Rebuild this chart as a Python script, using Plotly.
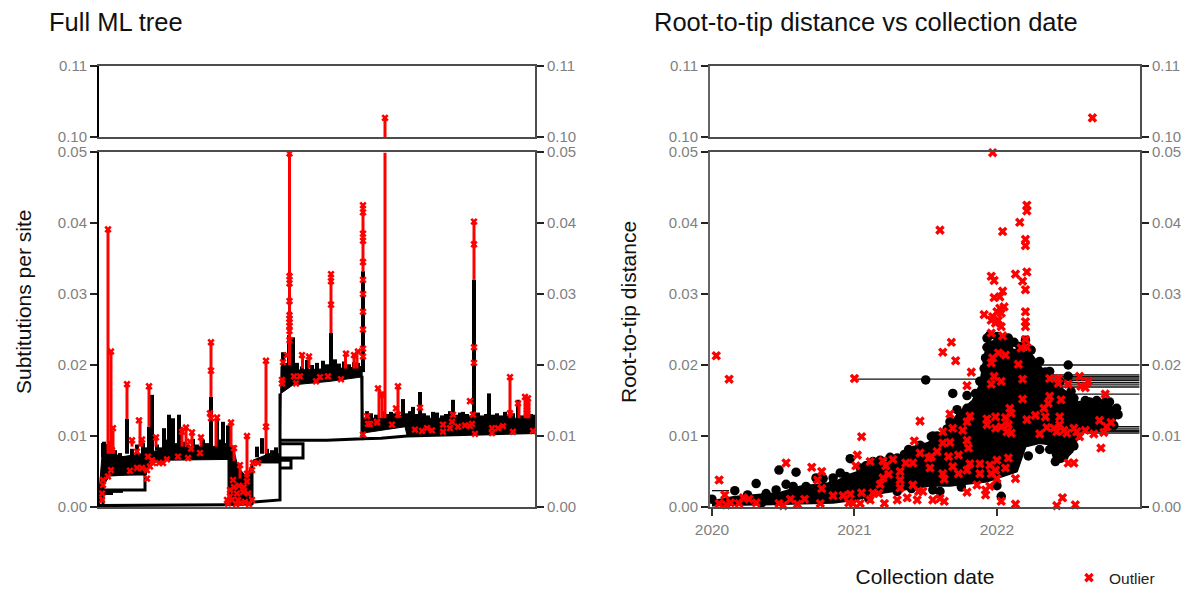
import plotly.graph_objects as go

W, H = 1192, 600   # canvas is 10 px taller than the 590 px window so the legend fits without pushing the margins
RED = "#ff0000"

# ---------- left panel: tree (x = tip rank, y = substitutions per site)
blob_upper_rank = [0, 2, 4, 8, 11, 24, 48, 65, 90, 110, 129, 131, 134, 139, 148, 154, 170, 181, 182, 194, 200, 231, 250, 263,
                   264, 280, 304, 330, 360, 400, 436]
blob_upper_val = [.0020, .0060, .0090, .0088, .0076, .0071, .0076, .0082, .0085, .0085, .0087, .0087, .0085, .0056, .0042, .0066, .0075, .0075, .0198, .0191, .0193, .0195, .0196, .0198,
                  .0125, .0125, .0125, .0125, .0125, .0125, .0125]
blob_lower_rank = [436, 400, 336, 308, 306, 271, 263, 262, 231, 194, 182, 181, 154, 154, 129, 129, 71, 51, 48, 47, 11, 4, 0]
blob_lower_val = [.0104, .0103, .0101, .0101, .0113, .0106, .0104, .0183, .0177, .0172, .0160, .0062, .0062, .0003, .0002, .0067, .0066, .0062, .0048, .0045, .0045, .0029, .0000]

black_rank = [4, 5, 28, 50, 53, 65, 70, 74, 80, 118, 124, 129, 163, 184, 190, 194, 232, 264, 304, 314, 321, 334, 343, 354, 364, 375, 390, 419, 429,
              # smaller teeth along the tops of the clades
              9, 16, 21, 33, 38, 44, 47, 58, 61, 68, 77, 84, 89, 94, 98, 104, 108, 112, 121, 127, 158, 168, 173, 177,
              186, 198, 203, 208, 213, 218, 224, 228, 236, 240, 245, 250, 255, 259,
              268, 272, 277, 284, 288, 292, 296, 300, 308, 311, 317, 325, 329, 338, 347, 351, 358, 361, 368, 372, 379, 383, 387, 394, 398, 402, 406, 410, 414, 423, 427, 432, 435]
black_top = [.0090, .0092, .0124, .0113, .0158, .0111, .0130, .0125, .0130, .0124, .0120, .0115, .0097, .0218, .0242, .0239, .0245, .0332, .0152, .0141, .0162, .0134, .0129, .0151, .0134, .0320, .0160, .0151, .0130,
             .0088, .0080, .0076, .0082, .0088, .0090, .0084, .0088, .0084, .0095, .0090, .0092, .0088, .0096, .0088, .0095, .0090, .0155, .0095, .0090, .0085, .0082, .0080, .0084,
             .0203, .0203, .0198, .0207, .0200, .0203, .0206, .0201, .0208, .0202, .0205, .0201, .0204, .0203,
             .0135, .0132, .0130, .0135, .0131, .0134, .0132, .0130, .0132, .0135, .0131, .0132, .0129, .0133, .0131, .0135, .0130, .0133, .0131, .0129, .0133, .0129, .0131, .0130, .0132, .0129, .0134, .0130, .0132, .0129, .0135, .0131, .0130]
black_base = [.0070, .0070, .0075, .0075, .0076, .0080, .0082, .0082, .0082, .0085, .0085, .0085, .0075, .0190, .0190, .0190, .0190, .0190, .0120, .0120, .0120, .0120, .0120, .0120, .0120, .0120, .0120, .0120, .0120,
              .0070, .0070, .0070, .0070, .0070, .0070, .0070, .0080, .0080, .0080, .0080, .0080, .0080, .0080, .0080, .0080, .0080, .0080, .0080, .0080, .0070, .0070, .0070, .0070,
              .0190, .0190, .0190, .0190, .0190, .0190, .0190, .0190, .0190, .0190, .0190, .0190, .0190, .0190,
              .0120, .0120, .0120, .0120, .0120, .0120, .0120, .0120, .0120, .0120, .0120, .0120, .0120, .0120, .0120, .0120, .0120, .0120, .0120, .0120, .0120, .0120, .0120, .0120, .0120, .0120, .0120, .0120, .0120, .0120, .0120, .0120, .0120]

red_rank = [9, 12, 14, 28, 33, 41, 43, 50, 57, 83, 87, 93, 102, 112, 117, 132, 135, 141, 148, 167, 190.5, 203.5, 210, 232, 246.5, 255, 258, 264, 280, 283, 286, 299, 375, 411, 420, 426, 428, 430]
red_top = [.0391, .0219, .0108, .0173, .0094, .0122, .0097, .0170, .0098, .0113, .0113, .0107, .0100, .0233, .0124, .0118, .0087, .0062, .0100, .0206, .0499, .0217, .0214, .0328, .0217, .0217, .0221, .0425, .0169, .0163, .0499, .0170, .0402, .0183, .0148, .0155, .0153, .0150]
red_base = [.0075, .0075, .0075, .0124, .0085, .0085, .0085, .0113, .0085, .0085, .0085, .0085, .0085, .0155, .0085, .0085, .0065, .0040, .0040, .0075, .0200, .0195, .0195, .0245, .0195, .0195, .0195, .0332, .0125, .0125, .0125, .0125, .0320, .0125, .0125, .0125, .0125, .0125]

# tree trunk branches, None splits the polylines
trunk_rank = [0, 129, None, 154, 181, 181, None, 181, 228, 263, 263, None, 263, 282, 308, 335, 436, None,
              181, 204, 204, 181, None, 181, 192, 192, 181, None, 4, 46, 46, 11, None, 4, 14, None, 4, 4, None, 4, 24]
trunk_val = [.0002, .0003, None, .0007, .0010, .0160, None, .0094, .0094, .0096, .0185, None, .0096, .0097, .0100, .0101, .0105, None,
             .0089, .0089, .0069, .0069, None, .0066, .0066, .0055, .0055, None, .0024, .0024, .0048, .0045, None, .0019, .0019, None, .0, .0045, None, .0022, .0022]

tree_out_rank = [3, 3, 4, 4, 12, 9, 9, 12, 14, 13, 11, 28, 33, 40, 43, 38, 50, 57, 31, 38, 43, 48, 48, 49, 53, 51, 54, 60, 64, 68, 79, 89, 101, 92, 91, 83, 87, 93, 102,
                 112, 112, 111, 112, 118, 132, 135, 148, 141, 134, 131, 138, 144, 149, 133, 139, 146, 153, 131, 148, 148, 153, 154, 159, 167, 167,
                 183, 183, 184, 188, 190.5, 190.5, 190.5, 190.5, 190.5, 190.5, 190.5, 190.5, 190.5, 190.5, 195, 201, 197, 217, 221, 229, 242, 203, 210, 247, 255, 259,
                 232, 232, 232, 264, 264, 264, 264, 264, 264, 264, 264, 264, 264, 264, 264, 268, 269, 278,
                 279, 283, 299, 271, 278, 293, 297, 299, 321, 316, 323, 328, 333, 344, 344, 351, 354, 353, 359, 366, 371, 371, 374, 373, 376, 375, 375, 375, 375,
                 393, 393, 399, 404, 414, 411, 411, 419, 426, 429, 428, 428, 434,
                 129, 135, 140, 145, 150, 128, 142, 137]
tree_out_val = [.0010, .0019, .0031, .0038, .0052, .0043, .0391, .0219, .0111, .0080, .0090, .0173, .0094, .0122, .0095, .0078, .0170, .0098, .0051, .0055, .0055, .0040, .0052, .0071, .0066, .0057, .0062, .0062, .0062, .0067, .0071, .0069, .0076, .0082, .0092, .0106, .0112, .0105, .0098,
                .0232, .0192, .0132, .0125, .0126, .0119, .0083, .0100, .0059, .0038, .0024, .0019, .0021, .0019, .0010, .0010, .0007, .0010, .0015, .0036, .0047, .0052, .0062, .0062, .0206, .0113,
                .0179, .0174, .0204, .0214, .0498, .0325, .0315, .0290, .0270, .0265, .0260, .0255, .0248, .0235, .0184, .0184, .0174, .0177, .0183, .0184, .0180, .0214, .0212, .0216, .0214, .0219,
                .0328, .0318, .0285, .0425, .0415, .0385, .0375, .0345, .0320, .0300, .0275, .0250, .0223, .0212, .0102, .0128, .0117, .0119,
                .0167, .0158, .0170, .0117, .0120, .0116, .0139, .0130, .0140, .0109, .0107, .0111, .0108, .0116, .0106, .0111, .0130, .0120, .0113, .0115, .0149, .0114, .0130, .0117, .0103, .0225, .0203, .0402, .0370,
                .0111, .0104, .0111, .0114, .0106, .0183, .0132, .0146, .0155, .0153, .0141, .0132, .0107,
                .0005, .0028, .0030, .0028, .0004, .0010, .0006, .0004]
top_spike_rank = [286, 286]
top_spike_val = [.1000, .1027]

# ---------- right panel: root-to-tip distance vs date (decimal year)
cloud_year = [2020.00, 2020.15, 2020.48, 2020.62, 2020.85, 2020.97, 2021.20, 2021.37, 2021.53, 2021.67, 2021.72, 2021.83, 2021.88, 2021.90, 2021.93, 2022.09, 2022.11, 2022.23, 2022.37, 2022.51, 2022.58, 2022.79, 2022.85, 2022.79, 2022.58, 2022.53, 2022.46, 2022.41, 2022.37, 2022.30, 2022.20, 2022.14, 2021.93, 2021.67, 2021.53, 2021.20, 2021.00, 2020.85, 2020.15, 2020.00]
cloud_val = [.0008, .0014, .0020, .0029, .0034, .0046, .0062, .0074, .0092, .0115, .0130, .0150, .0172, .0195, .0232, .0238, .0222, .0218, .0181, .0158, .0145, .0145, .0130, .0110, .0106, .0078, .0064, .0062, .0088, .0090, .0085, .0050, .0036, .0030, .0030, .0020, .0010, .0006, .0002, .0002]

tip_year = [2020.00, 2020.16, 2020.31, 2020.47, 2020.59, 2020.73, 2020.85, 2020.97, 2021.38, 2021.55, 2021.50, 2020.38, 2020.45, 2020.57, 2020.66, 2020.85, 2020.94, 2021.04, 2021.13, 2021.30, 2021.46, 2021.60,
            2021.69, 2022.50, 2022.50, 2022.37, 2021.79, 2021.85, 2021.88, 2022.22, 2022.30, 2022.37, 2022.41, 2022.03, 2021.55, 2022.79, 2022.85, 2022.84, 2022.76, 2022.65, 2022.58, 2022.82, 2022.70, 2022.56, 2022.54, 2022.47, 2021.72, 2021.79, 2021.67, 2021.54, 2022.54,
            2021.93, 2021.95, 2022.00, 2022.05, 2022.08, 2022.12, 2022.16, 2022.20, 2022.24, 2022.30, 2022.34, 2022.44, 2022.52, 2022.62, 2022.70, 2021.92, 2021.91, 2021.93,
            2020.25, 2020.52, 2020.78, 2020.90, 2021.08, 2021.18, 2021.25, 2021.35, 2021.42, 2021.50, 2021.65, 2021.75, 2021.58, 2020.35, 2021.10, 2021.30, 2021.40, 2021.60, 2021.75, 2022.00]
tip_val = [.0011, .0023, .0033, .0052, .0049, .0041, .0041, .0068, .0081, .0100, .0179, .0019, .0024, .0029, .0029, .0033, .0043, .0055, .0064, .0069, .0087, .0094,
           .0160, .0200, .0184, .0191, .0157, .0160, .0177, .0072, .0081, .0081, .0064, .0015, .0024, .0148, .0130, .0139, .0148, .0148, .0143, .0115, .0113, .0100, .0086, .0071, .0137, .0139, .0120, .0099, .0153,
           .0238, .0242, .0240, .0236, .0238, .0232, .0226, .0235, .0221, .0205, .0190, .0176, .0163, .0150, .0150, .0210, .0195, .0225,
           .0017, .0032, .0040, .0048, .0058, .0066, .0070, .0074, .0080, .0084, .0110, .0125, .0100, .0006, .0012, .0022, .0026, .0022, .0028, .0030]

branch_start = [2021.02, 2022.25, 2022.30, 2022.30, 2022.30, 2022.30, 2022.30, 2022.30, 2022.30, 2022.30, 2022.35, 2022.62, 2022.62, 2022.62, 2022.62, 2022.62, 2020.00]
branch_end = [2022.30, 2023.00, 2023.00, 2023.00, 2023.00, 2023.00, 2023.00, 2023.00, 2023.00, 2023.00, 2023.00, 2023.00, 2023.00, 2023.00, 2023.00, 2023.00, 2020.12]
branch_val = [.0180, .0200, .0186, .0184, .0182, .0180, .0178, .0175, .0172, .0169, .0159, .0113, .0110, .0108, .0106, .0104, .0023]

out_year = [2020.03, 2020.12, 2020.05, 2020.52, 2020.70, 2020.77, 2020.74, 2020.77, 2021.00, 2021.05, 2021.02, 2021.01, 2021.11, 2021.20, 2021.27, 2021.22, 2021.36, 2021.41, 2021.46, 2021.42, 2021.46, 2021.52, 2021.53, 2021.32, 2021.24, 2021.20, 2021.18, 2021.32, 2021.41, 2021.45, 2021.48, 2021.32,
            2020.97, 2021.05, 2021.13, 2021.17, 2021.04, 2020.99, 2021.11, 2021.21, 2021.30, 2021.37, 2021.44, 2021.55, 2020.85, 2020.92, 2020.96, 2020.76, 2020.47, 2020.55, 2020.60, 2020.65, 2020.50,
            2020.09, 2020.05, 2020.13, 2020.22, 2020.26, 2020.31, 2020.19, 2020.10,
            2022.21, 2022.21, 2022.16, 2021.60, 2022.04, 2022.20, 2022.20, 2022.21, 2022.13, 2021.96, 2021.98, 2022.18, 2022.20, 2022.04, 2021.98, 2022.02,
            2022.05, 2022.02, 2022.00, 2022.03, 2021.97, 2022.01, 2021.96, 2021.99, 2022.03, 2021.96, 2021.91, 2022.20, 2022.20, 2022.20, 2022.20, 2022.21, 2022.17, 2021.68, 2021.62, 2021.71, 2021.82, 2022.04,
            2022.01, 2022.06, 2021.97, 2021.96, 2022.15, 2021.98, 2022.03, 2021.96, 2022.18, 2021.79, 2022.37, 2022.43, 2022.43, 2022.50, 2022.58, 2022.64, 2022.59, 2022.62, 2022.76, 2022.37, 2022.36, 2022.45, 2022.18, 2022.33, 2022.09, 2022.34, 2022.44, 2022.27, 2022.21, 2022.10, 2022.06, 2021.99, 2021.93, 2021.67, 2021.81, 2021.79, 2021.69, 2021.62, 2021.76, 2021.79, 2021.67, 2021.80, 2021.62,
            2021.66, 2021.73, 2021.58, 2021.54, 2022.08, 2022.00, 2021.88, 2021.95, 2021.81, 2021.69, 2021.73, 2021.79, 2021.88, 2021.99, 2022.06, 2021.96, 2021.62, 2021.63, 2022.13, 2022.00, 2021.86, 2021.95, 2021.92, 2021.79, 2021.92, 2021.60, 2021.63, 2022.03, 2022.13, 2022.46, 2022.42, 2022.55,
            2021.93, 2021.99, 2022.03, 2022.08, 2022.07, 2022.10, 2022.35, 2022.40, 2022.44, 2022.42, 2022.47, 2022.49, 2022.54, 2022.56, 2022.62, 2022.58, 2022.68, 2022.72, 2022.80, 2022.77, 2022.75, 2022.73, 2022.30, 2022.50, 2022.54, 2021.97]
out_val = [.0213, .0180, .0038, .0062, .0056, .0050, .0038, .0026, .0181, .0099, .0073, .0058, .0064, .0065, .0067, .0058, .0062, .0062, .0121, .0093, .0076, .0069, .0055, .0050, .0046, .0041, .0032, .0038, .0031, .0022, .0022, .0027,
           .0018, .0020, .0020, .0019, .0005, .0005, .0010, .0005, .0010, .0013, .0010, .0010, .0016, .0016, .0006, .0005, .0005, .0011, .0004, .0011, .0002,
           .0017, .0005, .0006, .0013, .0011, .0006, .0005, .0003,
           .0425, .0417, .0401, .0390, .0388, .0377, .0368, .0331, .0328, .0325, .0319, .0318, .0306, .0304, .0295, .0296,
           .0282, .0280, .0275, .0273, .0268, .0263, .0263, .0259, .0254, .0245, .0271, .0275, .0261, .0254, .0236, .0225, .0224, .0232, .0218, .0206, .0190, .0241,
           .0217, .0214, .0210, .0203, .0201, .0184, .0177, .0173, .0180, .0171, .0181, .0181, .0174, .0173, .0184, .0177, .0170, .0168, .0159, .0156, .0146, .0151, .0152, .0139, .0139, .0127, .0127, .0129, .0123, .0132, .0126, .0127, .0124, .0131, .0128, .0120, .0111, .0106, .0108, .0094, .0091, .0083, .0090,
           .0071, .0073, .0078, .0071, .0069, .0066, .0061, .0059, .0061, .0057, .0047, .0052, .0047, .0052, .0055, .0047, .0047, .0039, .0040, .0040, .0031, .0029, .0024, .0021, .0017, .0012, .0008, .0008, .0004, .0013, .0002, .0003,
           .0116, .0111, .0113, .0116, .0106, .0104, .0112, .0111, .0116, .0106, .0108, .0104, .0111, .0106, .0108, .0099, .0103, .0122, .0119, .0113, .0105, .0083, .0103, .0062, .0062, .0499]
top_out_year = [2022.67]
top_out_val = [.1027]

y_ticks_low = [0, .01, .02, .03, .04, .05]
y_ticks_high = [.10, .11]
year_ticks = [2020, 2021, 2022]
tree_range = [0, 436]
year_range = [2019.986, 2023.004]
low_range = [0, .05]
high_range = [.10, .11]


def spikes(xs, bases, tops):
    ox, oy = [], []
    for x, b, t in zip(xs, bases, tops):
        ox += [x, x, None]
        oy += [b, t, None]
    return ox, oy


fig = go.Figure()

# left, lower
fig.add_trace(go.Scatter(x=blob_upper_rank + blob_lower_rank, y=blob_upper_val + blob_lower_val, fill="toself", fillcolor="black",
                         mode="lines", line=dict(color="black", width=1), xaxis="x", yaxis="y", showlegend=False, hoverinfo="skip"))
fig.add_trace(go.Scatter(x=trunk_rank, y=trunk_val, mode="lines", line=dict(color="black", width=3), xaxis="x", yaxis="y", showlegend=False, hoverinfo="skip"))
bx, by = spikes(black_rank, black_base, black_top)
fig.add_trace(go.Scatter(x=bx, y=by, mode="lines", line=dict(color="black", width=4), xaxis="x", yaxis="y", showlegend=False, hoverinfo="skip"))
rx, ry = spikes(red_rank, red_base, red_top)
fig.add_trace(go.Scatter(x=rx, y=ry, mode="lines", line=dict(color=RED, width=3), xaxis="x", yaxis="y", showlegend=False, hoverinfo="skip"))
fig.add_trace(go.Scatter(x=tree_out_rank, y=tree_out_val, mode="markers", marker=dict(symbol="x", size=6.5, color=RED), xaxis="x", yaxis="y", showlegend=False, cliponaxis=False))
# left, upper
fig.add_trace(go.Scatter(x=top_spike_rank, y=top_spike_val, mode="lines", line=dict(color=RED, width=3), xaxis="x2", yaxis="y2", showlegend=False, hoverinfo="skip"))
fig.add_trace(go.Scatter(x=top_spike_rank[1:], y=top_spike_val[1:], mode="markers", marker=dict(symbol="x", size=6.5, color=RED), xaxis="x2", yaxis="y2", showlegend=False))

# right, lower
lx, ly = [], []
for s, e, v in zip(branch_start, branch_end, branch_val):
    lx += [s, e, None]
    ly += [v, v, None]
fig.add_trace(go.Scatter(x=lx, y=ly, mode="lines", line=dict(color="#111111", width=1.3), xaxis="x3", yaxis="y3", showlegend=False, hoverinfo="skip"))
fig.add_trace(go.Scatter(x=cloud_year, y=cloud_val, fill="toself", fillcolor="black", mode="lines", line=dict(color="black", width=2),
                         xaxis="x3", yaxis="y3", showlegend=False, hoverinfo="skip"))
fig.add_trace(go.Scatter(x=tip_year, y=tip_val, mode="markers", marker=dict(symbol="circle", size=9.5, color="black"), xaxis="x3", yaxis="y3", showlegend=False))
fig.add_trace(go.Scatter(x=out_year, y=out_val, mode="markers", marker=dict(symbol="x", size=8.5, color=RED), xaxis="x3", yaxis="y3", name="Outlier", showlegend=True, cliponaxis=False))
# right, upper
fig.add_trace(go.Scatter(x=top_out_year, y=top_out_val, mode="markers", marker=dict(symbol="x", size=8.5, color=RED), xaxis="x4", yaxis="y4", showlegend=False))
# register the right-hand y axes
for ya in ["y5", "y6", "y7", "y8"]:
    base = {"y5": "x", "y6": "x2", "y7": "x3", "y8": "x4"}[ya]
    fig.add_trace(go.Scatter(x=[None], y=[None], xaxis=base, yaxis=ya, showlegend=False, hoverinfo="skip"))


def xd(a, b):
    return [a / W, b / W]


def yd(top, bottom):
    return [1 - bottom / H, 1 - top / H]


FONT = "Liberation Sans, Arial, sans-serif"
TICK = dict(color="#7f7f7f", size=15, family=FONT)
AX = "#4d4d4d"
LX, RX = xd(99, 535), xd(710, 1140)
LOW, HIGH = yd(152, 507), yd(66, 137)


def xaxis(domain, rng, yanchor, ticks=False):
    d = dict(domain=domain, range=rng, anchor=yanchor, showgrid=False, zeroline=False, showline=True, mirror=True,
             linecolor=AX, linewidth=2, showticklabels=False, ticks="", automargin=False)
    if ticks:
        d.update(tickmode="array", tickvals=year_ticks, ticktext=[str(v) for v in year_ticks], showticklabels=True,
                 ticks="outside", ticklen=7, tickwidth=2, tickcolor="#333333",
                 tickfont=dict(color="#7f7f7f", size=15.5, family=FONT))
    return d


def yaxis(domain, rng, vals, xanchor, side="left", overlay=None, color="black", fmt="%.2f"):
    d = dict(domain=domain, range=rng, anchor=xanchor, side=side, showgrid=False, zeroline=False, showline=True,
             linecolor=color, linewidth=2, tickmode="array", tickvals=vals, ticktext=[fmt % v for v in vals],
             ticks="outside", ticklen=7, tickwidth=2, tickcolor="#222222", tickfont=TICK, automargin=False)
    if overlay:
        d["overlaying"] = overlay
    return d


title_font = dict(color="#111111", size=21, family=FONT)
xa3 = xaxis(RX, year_range, "y3", ticks=True)
xa3["title"] = dict(text="Collection date", font=title_font, standoff=33)

fig.update_layout(
    width=W, height=H, margin=dict(l=0, r=0, t=0, b=0), autosize=False,
    paper_bgcolor="white", plot_bgcolor="rgba(0,0,0,0)",
    font=dict(family=FONT),
    xaxis=xaxis(LX, tree_range, "y"),
    xaxis2=xaxis(LX, tree_range, "y2"),
    xaxis3=xa3,
    xaxis4=xaxis(RX, year_range, "y4"),
    yaxis=yaxis(LOW, low_range, y_ticks_low, "x"),
    yaxis2=yaxis(HIGH, high_range, y_ticks_high, "x2"),
    yaxis3=yaxis(LOW, low_range, y_ticks_low, "x3", color="#666666"),
    yaxis4=yaxis(HIGH, high_range, y_ticks_high, "x4", color="#666666"),
    yaxis5=yaxis(LOW, low_range, y_ticks_low, "x", side="right", overlay="y", color=AX),
    yaxis6=yaxis(HIGH, high_range, y_ticks_high, "x2", side="right", overlay="y2", color=AX),
    yaxis7=yaxis(LOW, low_range, y_ticks_low, "x3", side="right", overlay="y3", color=AX),
    yaxis8=yaxis(HIGH, high_range, y_ticks_high, "x4", side="right", overlay="y4", color=AX),
    legend=dict(x=1069 / W, y=1 - 561 / H, xanchor="left", yanchor="top", bgcolor="rgba(0,0,0,0)",
                font=dict(color="#222222", size=15.5), itemsizing="trace"),
    annotations=[
        dict(text="Full ML tree", x=47 / W, y=1 - 22 / H, xref="paper", yref="paper", xanchor="left", yanchor="middle", showarrow=False,
             font=dict(color="#111111", size=25.5, family=FONT)),
        dict(text="Root-to-tip distance vs collection date", x=652 / W, y=1 - 22 / H, xref="paper", yref="paper", xanchor="left", yanchor="middle", showarrow=False,
             font=dict(color="#111111", size=25.5, family=FONT)),
        dict(text="Subtitutions per site", x=23 / W, y=1 - 302 / H, xref="paper", yref="paper", xanchor="center", yanchor="middle", showarrow=False, textangle=-90,
             font=title_font),
        dict(text="Root-to-tip distance", x=628 / W, y=1 - 312 / H, xref="paper", yref="paper", xanchor="center", yanchor="middle", showarrow=False, textangle=-90,
             font=title_font),
    ],
)

fig.write_html("out.html", config={"displayModeBar": False},
               post_script="document.body.style.margin='0';document.body.style.overflow='hidden';document.documentElement.style.overflow='hidden';document.documentElement.style.height='590px';document.body.style.height='590px';")
